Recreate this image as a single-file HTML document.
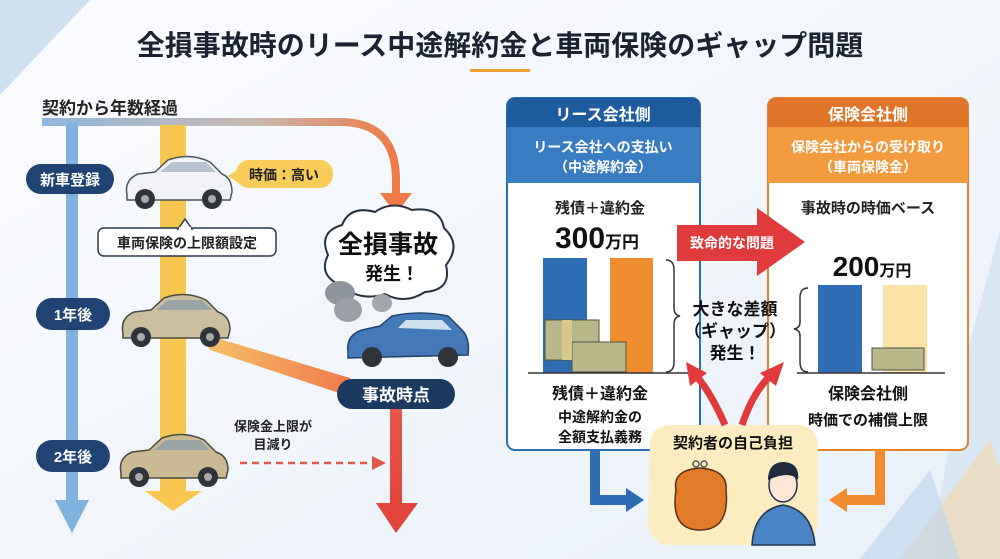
<!DOCTYPE html>
<html><head><meta charset="utf-8"><style>
html,body{margin:0;padding:0;width:1000px;height:559px;overflow:hidden;background:#f4f7fb}
svg{display:block}
text{font-family:"Liberation Sans","Noto Sans CJK JP",sans-serif;font-weight:bold}
</style></head><body>
<svg width="1000" height="559" viewBox="0 0 1000 559" xmlns="http://www.w3.org/2000/svg">
<defs>
<linearGradient id="bg" x1="0" y1="0" x2="1" y2="1"><stop offset="0" stop-color="#fbfcfe"/><stop offset="1" stop-color="#e9f0f8"/></linearGradient>
<linearGradient id="top" x1="0" y1="0" x2="1" y2="0"><stop offset="0" stop-color="#8fb8de"/><stop offset="0.6" stop-color="#c9b9b0"/><stop offset="1" stop-color="#ee7a48"/></linearGradient>
<linearGradient id="diag" x1="0" y1="0" x2="1" y2="0"><stop offset="0" stop-color="#f6c36a"/><stop offset="1" stop-color="#ef7a4a"/></linearGradient>
<linearGradient id="redv" x1="0" y1="0" x2="0" y2="1"><stop offset="0" stop-color="#e8574a"/><stop offset="1" stop-color="#e2453a"/></linearGradient>
</defs>
<rect width="1000" height="559" fill="url(#bg)"/>
<polygon points="0,0 90,0 0,95" fill="#cfe0f1"/>
<polygon points="1000,230 1000,559 930,559 960,380" fill="#d9e6f3"/>
<polygon points="900,559 990,440 1000,470 1000,559" fill="#f5d9a8" opacity="0.6"/>
<polygon points="860,559 930,470 960,559" fill="#bcd3ee" opacity="0.6"/>

<!-- title -->
<text x="500" y="55" font-size="28" text-anchor="middle" fill="#1b2230">全損事故時のリース中途解約金と車両保険のギャップ問題</text>
<rect x="470" y="69" width="60" height="3" fill="#f0a030"/>

<!-- left -->
<text x="42" y="114" font-size="17" fill="#222">契約から年数経過</text>
<path d="M42,122 H340 Q396,122 396,180 V195" fill="none" stroke="url(#top)" stroke-width="8"/>
<polygon points="380,193 412,193 396,214" fill="#ef7a48"/>
<!-- blue arrow -->
<rect x="66" y="122" width="12" height="380" fill="#7fb2df"/>
<polygon points="55,500 89,500 72,533" fill="#7fb2df"/>
<!-- yellow arrow -->
<rect x="160" y="125" width="26" height="368" fill="#f7c64e"/>
<polygon points="145,491 202,491 173,511" fill="#f7c64e"/>
<!-- diagonal -->
<polygon points="200,333 210,350 345,395 350,378" fill="url(#diag)"/>
<!-- red arrow -->
<rect x="390" y="405" width="12" height="100" fill="url(#redv)"/>
<polygon points="376,503 418,503 396,533" fill="#e2453a"/>
<!-- dashed -->
<line x1="240" y1="463" x2="372" y2="463" stroke="#e05a4a" stroke-width="2.5" stroke-dasharray="7,5"/>
<polygon points="372,456 386,463 372,470" fill="#e05a4a"/>
<text x="273" y="431" font-size="13" text-anchor="middle" fill="#222">保険金上限が</text>
<text x="273" y="449" font-size="13" text-anchor="middle" fill="#222">目減り</text>

<!-- pills -->
<rect x="26" y="164" width="88" height="30" rx="15" fill="#1f4373"/>
<text x="70" y="185" font-size="15" text-anchor="middle" fill="#fff">新車登録</text>
<rect x="36" y="298" width="74" height="32" rx="16" fill="#1f4373"/>
<text x="73" y="320" font-size="15" text-anchor="middle" fill="#fff">1年後</text>
<rect x="36" y="440" width="74" height="32" rx="16" fill="#1f4373"/>
<text x="73" y="462" font-size="15" text-anchor="middle" fill="#fff">2年後</text>
<rect x="337" y="379" width="118" height="30" rx="15" fill="#1b3a60"/>
<text x="396" y="401" font-size="17" text-anchor="middle" fill="#fff">事故時点</text>

<!-- bubble 時価 -->
<polygon points="228,176 240,168 240,184" fill="#f8cc58"/>
<rect x="236" y="160" width="97" height="28" rx="13" fill="#f8cc58"/>
<text x="284" y="180" font-size="14" text-anchor="middle" fill="#222">時価：高い</text>
<!-- box -->
<rect x="98" y="228" width="178" height="28" rx="6" fill="#fff" stroke="#2a3a4f" stroke-width="1.5"/>
<polygon points="178,229 185,219 192,229" fill="#fff" stroke="#2a3a4f" stroke-width="1.5"/>
<rect x="179" y="227" width="12" height="3" fill="#fff"/>
<text x="187" y="248" font-size="14" text-anchor="middle" fill="#222">車両保険の上限額設定</text>

<!-- cars -->
<g id="car">
<path d="M127,195 Q124,180 138,174 L155,172 L168,160 Q190,152 210,162 L222,174 Q232,178 232,192 L230,200 L127,200 Z" fill="#f1f3f6" stroke="#4a5560" stroke-width="1.5"/>
<path d="M160,172 L172,162 L206,162 L216,172 Z" fill="#b7c3cf"/>
<circle cx="145" cy="199" r="10" fill="#2e343a"/><circle cx="145" cy="199" r="4" fill="#aaa"/>
<circle cx="212" cy="199" r="10" fill="#2e343a"/><circle cx="212" cy="199" r="4" fill="#aaa"/>
</g>
<g transform="translate(-4,138)">
<path d="M127,195 Q124,180 138,174 L155,172 L168,160 Q190,152 210,162 L222,174 Q234,178 234,192 L232,200 L127,200 Z" fill="#cbbf9f" stroke="#4a4a40" stroke-width="1.5"/>
<path d="M160,172 L172,162 L206,162 L216,172 Z" fill="#9aa3a5"/>
<circle cx="145" cy="199" r="10" fill="#2e343a"/><circle cx="145" cy="199" r="4" fill="#aaa"/>
<circle cx="214" cy="199" r="10" fill="#2e343a"/><circle cx="214" cy="199" r="4" fill="#aaa"/>
</g>
<g transform="translate(-6,278)">
<path d="M127,195 Q124,180 138,174 L155,172 L168,160 Q190,152 210,162 L222,174 Q234,178 234,192 L232,200 L127,200 Z" fill="#cbb993" stroke="#4a4a40" stroke-width="1.5"/>
<path d="M160,172 L172,162 L206,162 L216,172 Z" fill="#9aa3a5"/>
<circle cx="145" cy="199" r="10" fill="#2e343a"/><circle cx="145" cy="199" r="4" fill="#aaa"/>
<circle cx="214" cy="199" r="10" fill="#2e343a"/><circle cx="214" cy="199" r="4" fill="#aaa"/>
</g>
<!-- cloud -->
<path d="M340,285 Q318,275 328,255 Q318,232 342,225 Q350,205 375,212 Q392,200 412,210 Q440,206 444,228 Q462,245 446,265 Q452,290 425,292 Q405,305 385,294 Q360,302 340,285 Z" fill="#fff" stroke="#2a3240" stroke-width="2"/>
<text x="388" y="253" font-size="25" text-anchor="middle" fill="#111">全損事故</text>
<text x="392" y="280" font-size="18" text-anchor="middle" fill="#111">発生！</text>
<!-- smoke -->
<ellipse cx="340" cy="293" rx="15" ry="12" fill="#8e949b"/>
<ellipse cx="348" cy="310" rx="14" ry="12" fill="#9aa0a6"/>
<ellipse cx="382" cy="303" rx="10" ry="9" fill="#a2a7ad"/>
<!-- crashed car -->
<path d="M348,352 Q346,335 362,330 L380,326 L392,316 Q420,310 448,316 L462,330 Q470,338 468,355 L348,358 Z" fill="#4479b8" stroke="#24436a" stroke-width="1.5"/>
<path d="M398,328 L406,320 L442,320 L452,330 Z" fill="#cfe0ef"/>
<circle cx="372" cy="357" r="10" fill="#2e343a"/><circle cx="448" cy="357" r="10" fill="#2e343a"/>

<!-- right panels -->
<rect x="507" y="98" width="193" height="352" rx="8" fill="#fff" stroke="#2a6db3" stroke-width="2"/>
<path d="M507,106 Q507,98 515,98 H692 Q700,98 700,106 V127 H507 Z" fill="#1f5c9e"/>
<rect x="507" y="127" width="193" height="56" fill="#3a7cc2"/>
<text x="603" y="120" font-size="16" text-anchor="middle" fill="#fff">リース会社側</text>
<text x="603" y="152" font-size="14" text-anchor="middle" fill="#fff">リース会社への支払い</text>
<text x="603" y="172" font-size="14" text-anchor="middle" fill="#fff">（中途解約金）</text>

<rect x="768" y="98" width="200" height="352" rx="8" fill="#fff" stroke="#e5822e" stroke-width="2"/>
<path d="M768,106 Q768,98 776,98 H960 Q968,98 968,106 V127 H768 Z" fill="#e0752a"/>
<rect x="768" y="127" width="200" height="56" fill="#f29a3e"/>
<text x="868" y="120" font-size="16" text-anchor="middle" fill="#fff">保険会社側</text>
<text x="868" y="152" font-size="14" text-anchor="middle" fill="#fff">保険会社からの受け取り</text>
<text x="868" y="172" font-size="14" text-anchor="middle" fill="#fff">（車両保険金）</text>

<!-- left panel body -->
<text x="600" y="213" font-size="15" text-anchor="middle" fill="#222">残債＋違約金</text>
<text x="597" y="248" font-size="30" text-anchor="middle" fill="#111">300<tspan font-size="17">万円</tspan></text>
<rect x="543" y="258" width="44" height="115" fill="#2e6db4"/>
<rect x="610" y="258" width="43" height="115" fill="#ef8d2e"/>
<g fill="#b8b88a" stroke="#4d5440" stroke-width="1">
<rect x="545" y="320" width="54" height="40"/><rect x="572" y="342" width="54" height="30"/>
</g>
<rect x="562" y="320" width="10" height="40" fill="#d8c88a"/>
<line x1="528" y1="373" x2="690" y2="373" stroke="#333" stroke-width="1.5"/>
<path d="M666,260 Q674,260 674,270 V308 Q674,315 680,316 Q674,317 674,324 V362 Q674,372 666,372" fill="none" stroke="#333" stroke-width="1.5"/>
<text x="600" y="399" font-size="16" text-anchor="middle" fill="#111">残債＋違約金</text>
<text x="600" y="422" font-size="14" text-anchor="middle" fill="#111">中途解約金の</text>
<text x="600" y="442" font-size="14" text-anchor="middle" fill="#111">全額支払義務</text>

<!-- right panel body -->
<text x="868" y="213" font-size="15" text-anchor="middle" fill="#222">事故時の時価ベース</text>
<text x="872" y="276" font-size="28" text-anchor="middle" fill="#111">200<tspan font-size="16">万円</tspan></text>
<rect x="818" y="285" width="44" height="88" fill="#2e6db4"/>
<rect x="883" y="285" width="44" height="88" fill="#fbe3a8"/>
<rect x="872" y="348" width="52" height="22" fill="#b8b88a" stroke="#4d5440"/>
<line x1="797" y1="373" x2="945" y2="373" stroke="#333" stroke-width="1.5"/>
<path d="M808,288 Q800,288 800,298 V322 Q800,328 794,329 Q800,330 800,336 V362 Q800,372 808,372" fill="none" stroke="#333" stroke-width="1.5"/>
<text x="868" y="399" font-size="16" text-anchor="middle" fill="#111">保険会社側</text>
<text x="868" y="425" font-size="15" text-anchor="middle" fill="#111">時価での補償上限</text>

<!-- center -->
<polygon points="677,225 757,225 757,208 805,242 757,276 757,261 677,261" fill="#e03a3a"/>
<text x="732" y="248" font-size="14" text-anchor="middle" fill="#fff">致命的な問題</text>
<text x="735" y="315" font-size="17" text-anchor="middle" fill="#111">大きな差額</text>
<text x="735" y="337" font-size="17" text-anchor="middle" fill="#111">（ギャップ）</text>
<text x="735" y="359" font-size="17" text-anchor="middle" fill="#111">発生！</text>

<!-- bubble bottom -->
<path d="M650,445 Q650,425 672,425 H795 Q818,425 818,447 V520 Q818,545 795,545 H672 Q650,545 648,520 Z" fill="#fcedc0"/>
<text x="733" y="448" font-size="15" text-anchor="middle" fill="#111">契約者の自己負担</text>
<!-- red up arrows -->
<path d="M725,425 Q712,395 698,378" fill="none" stroke="#e03a3a" stroke-width="7"/>
<polygon points="686,362 707,373 690,386" fill="#e03a3a"/>
<path d="M742,425 Q752,395 768,378" fill="none" stroke="#e03a3a" stroke-width="7"/>
<polygon points="784,362 776,386 760,373" fill="#e03a3a"/>
<!-- purse -->
<path d="M676,490 Q672,470 700,468 Q728,470 726,490 Q730,530 700,530 Q670,530 676,490 Z" fill="#e37c2a" stroke="#5a3010" stroke-width="1.5"/>
<circle cx="696" cy="464" r="3" fill="none" stroke="#555" stroke-width="1.5"/><circle cx="704" cy="464" r="3" fill="none" stroke="#555" stroke-width="1.5"/>
<!-- person -->
<path d="M752,545 Q754,510 783,505 Q812,510 815,545 Z" fill="#4a84c4" stroke="#1d3550" stroke-width="1.5"/>
<ellipse cx="783" cy="485" rx="14" ry="17" fill="#fde6d4" stroke="#1d3550" stroke-width="1.5"/>
<path d="M768,480 Q768,462 784,462 Q800,463 798,480 Q790,470 768,480 Z" fill="#1e2c3e"/>

<!-- elbow arrows -->
<path d="M595,450 V500 H628" fill="none" stroke="#2e6db4" stroke-width="10"/>
<polygon points="626,488 644,500 626,512" fill="#2e6db4"/>
<path d="M880,450 V500 H845" fill="none" stroke="#ef8d2e" stroke-width="10"/>
<polygon points="847,488 829,500 847,512" fill="#ef8d2e"/>
</svg>
</body></html>
